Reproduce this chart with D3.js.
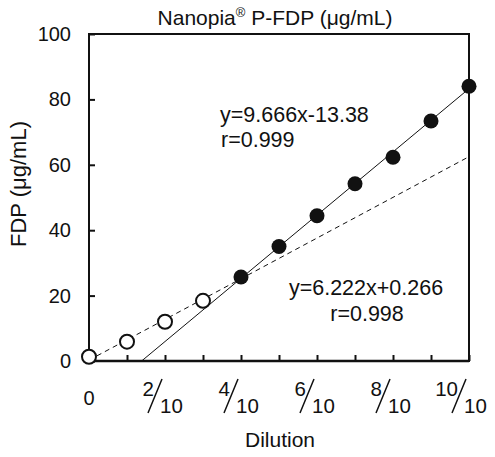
<!DOCTYPE html>
<html>
<head>
<meta charset="utf-8">
<script src="https://cdn.jsdelivr.net/npm/d3@7"></script>
<style>
  body { margin: 0; background: #fff; }
  svg { font-family: "Liberation Sans", Arial, Helvetica, sans-serif; }
</style>
</head>
<body>
<svg id="chart" width="495" height="457"></svg>
<script>
// data
var openX = [0, 1, 2, 3];
var openY = [1.3, 5.9, 12.0, 18.4];
var filledX = [4, 5, 6, 7, 8, 9, 10];
var filledY = [25.7, 35.0, 44.4, 54.2, 62.3, 73.4, 84.0];
var yTicks = [0, 20, 40, 60, 80, 100];
var xTicks = [0, 1, 2, 3, 4, 5, 6, 7, 8, 9, 10];
var xLabelPos = [2, 4, 6, 8, 10];
var xLabelNum = ["2", "4", "6", "8", "10"];
var xLabelDen = ["10", "10", "10", "10", "10"];
// regression lines: [slope, intercept]
var fitHigh = [9.666, -13.38];
var fitLow = [6.222, 0.266];

var svg = d3.select("#chart");
var margin = {left: 89, right: 26, top: 34, bottom: 96};
var width = 495 - margin.left - margin.right;
var height = 457 - margin.top - margin.bottom;
var ink = "#111";

var x = d3.scaleLinear().domain([0, 10]).range([0, width]);
var y = d3.scaleLinear().domain([0, 100]).range([height, 0]);

var g = svg.append("g").attr("transform", "translate(" + margin.left + "," + margin.top + ")");

//Axes with inward ticks
var yAxis = g.append("g")
  .call(d3.axisLeft(y).tickValues(yTicks).tickSize(-6).tickPadding(18));
var xAxis = g.append("g")
  .attr("transform", "translate(0," + height + ")")
  .call(d3.axisBottom(x).tickValues(xTicks).tickSize(-6).tickFormat(""));
g.selectAll(".domain").remove();
g.selectAll(".tick line").attr("stroke", ink).attr("stroke-width", 2);
yAxis.selectAll("text").attr("font-size", 20).attr("fill", ink).attr("font-family", null);

//Frame
g.append("rect")
  .attr("width", width).attr("height", height)
  .attr("fill", "none").attr("stroke", ink).attr("stroke-width", 2);
g.append("line")
  .attr("x1", 0).attr("x2", width).attr("y1", height).attr("y2", height)
  .attr("stroke", ink).attr("stroke-width", 2.5);

//Fit lines
var x0High = -fitHigh[1] / fitHigh[0];
g.append("line")
  .attr("x1", x(x0High)).attr("y1", y(0))
  .attr("x2", x(10)).attr("y2", y(fitHigh[0] * 10 + fitHigh[1]))
  .attr("stroke", ink).attr("stroke-width", 1);
g.append("line")
  .attr("x1", x(0)).attr("y1", y(fitLow[1]))
  .attr("x2", x(10)).attr("y2", y(fitLow[0] * 10 + fitLow[1]))
  .attr("stroke", ink).attr("stroke-width", 1)
  .attr("stroke-dasharray", "5,4");

//Points
g.selectAll(".open").data(openX).enter().append("circle")
  .attr("class", "open")
  .attr("cx", function(d) { return x(d); })
  .attr("cy", function(d, i) { return y(openY[i]); })
  .attr("r", 7)
  .attr("fill", "#fff").attr("stroke", ink).attr("stroke-width", 2);
g.selectAll(".filled").data(filledX).enter().append("circle")
  .attr("class", "filled")
  .attr("cx", function(d) { return x(d); })
  .attr("cy", function(d, i) { return y(filledY[i]); })
  .attr("r", 7.5)
  .attr("fill", ink);

//X tick labels: 0 then fractions
g.append("text")
  .attr("x", x(0)).attr("y", height + 44)
  .attr("text-anchor", "middle").attr("font-size", 20).attr("fill", ink)
  .text("0");
var frac = g.selectAll(".frac").data(xLabelPos).enter().append("g")
  .attr("class", "frac")
  .attr("transform", function(d) { return "translate(" + x(d) + "," + height + ")"; });
frac.append("text")
  .attr("x", -11).attr("y", 35)
  .attr("text-anchor", "end").attr("font-size", 20.5).attr("fill", ink)
  .text(function(d, i) { return xLabelNum[i]; });
frac.append("line")
  .attr("x1", -17).attr("y1", 52).attr("x2", -3).attr("y2", 18)
  .attr("stroke", ink).attr("stroke-width", 1.5);
frac.append("text")
  .attr("x", -5).attr("y", 52)
  .attr("font-size", 20.5).attr("fill", ink)
  .text(function(d, i) { return xLabelDen[i]; });

//Titles
var title = svg.append("text")
  .attr("x", 275).attr("y", 25)
  .attr("text-anchor", "middle").attr("font-size", 21).attr("fill", ink);
title.append("tspan").text("Nanopia");
title.append("tspan").attr("font-size", 13).attr("dy", -8).text("®");
title.append("tspan").attr("dy", 8).text(" P-FDP (μg/mL)");

svg.append("text")
  .attr("x", 280).attr("y", 447)
  .attr("text-anchor", "middle").attr("font-size", 21).attr("fill", ink)
  .text("Dilution");

svg.append("text")
  .attr("transform", "translate(26,184) rotate(-90)")
  .attr("text-anchor", "middle").attr("font-size", 22).attr("fill", ink)
  .text("FDP (μg/mL)");

//Equations
var eq = [
  {t: "y=9.666x-13.38", x: 220, y: 122, a: "start"},
  {t: "r=0.999", x: 221, y: 147, a: "start"},
  {t: "y=6.222x+0.266", x: 366, y: 295, a: "middle"},
  {t: "r=0.998", x: 367, y: 321, a: "middle"}
];
svg.selectAll(".eq").data(eq).enter().append("text")
  .attr("class", "eq")
  .attr("x", function(d) { return d.x; })
  .attr("y", function(d) { return d.y; })
  .attr("text-anchor", function(d) { return d.a; })
  .attr("font-size", 21.5).attr("fill", ink)
  .text(function(d) { return d.t; });
</script>
</body>
</html>
